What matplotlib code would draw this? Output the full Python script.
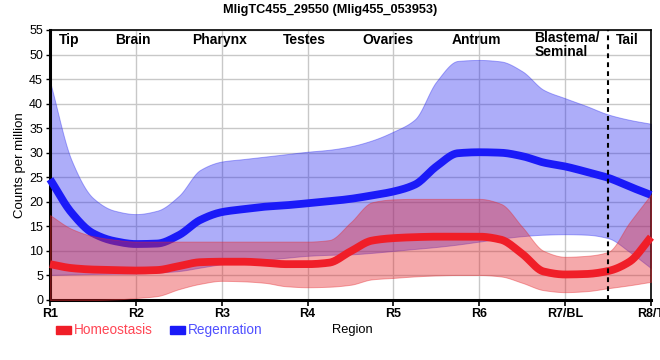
import numpy as np
import matplotlib
matplotlib.use("Agg")
import matplotlib.pyplot as plt

plt.rcParams['font.family'] = ['Liberation Sans', 'DejaVu Sans']

# positions along the body (R1 = 0 ... R8/T = 7), read every quarter step
pos = np.arange(0, 7.01, 0.25)

regen_mean = [24.6, 17.8, 13.6, 12.0, 11.4, 11.5, 13.2, 16.3, 17.9, 18.5, 19.0, 19.3,
              19.7, 20.1, 20.6, 21.3, 22.1, 23.5, 27.2, 29.9, 30.1, 30.0, 29.3, 28.0,
              27.2, 26.1, 24.9, 23.1, 21.4]
regen_hi = [44.5, 28.5, 20.8, 18.2, 17.5, 18.2, 21.2, 26.5, 28.2, 28.7, 29.2, 29.7,
            30.2, 30.6, 31.3, 32.5, 34.3, 36.8, 44.5, 48.7, 48.9, 48.6, 46.6, 42.8,
            41.1, 39.5, 37.8, 36.7, 35.9]
regen_lo = [5.1, 5.2, 5.3, 5.35, 5.4, 5.6, 5.9, 6.6, 7.3, 7.8, 8.2, 8.6,
            9.0, 9.2, 9.3, 9.6, 10.0, 10.4, 10.8, 11.3, 11.9, 12.5, 13.0, 13.3,
            13.4, 13.3, 12.6, 9.8, 6.5]

homeo_mean = [7.3, 6.5, 6.2, 6.1, 6.0, 6.1, 6.9, 7.7, 7.8, 7.8, 7.6, 7.3,
              7.3, 7.6, 9.9, 12.1, 12.6, 12.8, 12.9, 12.9, 12.9, 12.3, 9.4, 5.8,
              5.2, 5.3, 5.9, 7.8, 12.8]
homeo_hi = [17.3, 14.5, 13.0, 12.3, 11.9, 11.9, 11.9, 11.9, 11.9, 11.9, 11.9, 11.9,
            11.9, 12.2, 15.8, 19.9, 20.5, 20.6, 20.6, 20.6, 20.6, 19.6, 14.9, 10.0,
            8.8, 9.0, 9.8, 15.8, 21.5]
homeo_lo = [0.0, 0.0, 0.0, 0.1, 0.4, 0.8, 2.2, 3.3, 3.9, 3.8, 3.5, 2.8,
            2.6, 2.7, 3.1, 4.2, 4.5, 4.8, 5.0, 5.1, 5.1, 4.8, 3.5, 2.0,
            1.6, 1.8, 2.4, 3.0, 3.7]

tick_labels = ['R1', 'R2', 'R3', 'R4', 'R5', 'R6', 'R7/BL', 'R8/T']
regions = ['Tip', 'Brain', 'Pharynx', 'Testes', 'Ovaries', 'Antrum', 'Blastema/\nSeminal', 'Tail']
region_x = [0.22, 0.97, 1.98, 2.96, 3.94, 4.97, 5.64, 6.72]


def smooth(x, y, xs):
    # monotone cubic (pchip) through the read points, only for drawing
    x = np.asarray(x, float)
    y = np.asarray(y, float)
    h = np.diff(x)
    d = np.diff(y) / h
    m = np.zeros_like(y)
    m[0], m[-1] = d[0], d[-1]
    for k in range(1, len(y) - 1):
        if d[k - 1] * d[k] > 0:
            w1 = 2 * h[k] + h[k - 1]
            w2 = h[k] + 2 * h[k - 1]
            m[k] = (w1 + w2) / (w1 / d[k - 1] + w2 / d[k])
    i = np.clip(np.searchsorted(x, xs) - 1, 0, len(x) - 2)
    t = (xs - x[i]) / h[i]
    h00 = 2 * t**3 - 3 * t**2 + 1
    h10 = t**3 - 2 * t**2 + t
    h01 = -2 * t**3 + 3 * t**2
    h11 = t**3 - t**2
    return h00 * y[i] + h10 * h[i] * m[i] + h01 * y[i + 1] + h11 * h[i] * m[i + 1]


xs = np.linspace(0, 7, 600)
blue = '#1a1af8'
red = '#f01e28'

fig = plt.figure(figsize=(6.6, 3.6), dpi=100)
ax = fig.add_axes([50 / 660, 60 / 360, 601 / 660, 270 / 360])

ax.fill_between(xs, smooth(pos, regen_lo, xs), smooth(pos, regen_hi, xs),
                color='#2828f0', alpha=0.38, lw=0.7, zorder=2)
ax.plot(xs, smooth(pos, regen_mean, xs), color=blue, lw=5.6,
        solid_capstyle='butt', zorder=3, clip_on=False)
ax.fill_between(xs, smooth(pos, homeo_lo, xs), smooth(pos, homeo_hi, xs),
                color='#e6282d', alpha=0.4, lw=0.7, zorder=4)
ax.plot(xs, smooth(pos, homeo_mean, xs), color=red, lw=5.6,
        solid_capstyle='butt', zorder=5, clip_on=False)

ax.axvline(6.5, color='k', lw=1.5, ls=(0, (2.3, 2.0)), zorder=6)

ax.set_xlim(0, 7)
ax.set_ylim(0, 55)
ax.set_xticks(range(8))
ax.set_xticklabels(tick_labels, fontweight='bold', fontsize=9)
ax.set_yticks(range(0, 56, 5))
ax.tick_params(axis='y', labelsize=9, length=3, width=1, pad=2)
ax.tick_params(axis='x', length=4, width=1.2, pad=2)
ax.grid(True, color='#c8c8c8', lw=1)
ax.set_axisbelow(True)

for side in ['left', 'bottom']:
    ax.spines[side].set_linewidth(2.2)
for side in ['top', 'right']:
    ax.spines[side].set_linewidth(1.2)

for name, rx in zip(regions, region_x):
    if '\n' in name:
        ax.text(rx, 54.7, name, ha='left', va='top', fontsize=10,
                fontweight='bold', linespacing=0.95, zorder=7)
    else:
        ax.text(rx, 53.0, name, ha='center', va='center', fontsize=10,
                fontweight='bold', zorder=7)

fig.text(0.5, 1 - 10 / 360, 'MligTC455_29550 (Mlig455_053953)', ha='center',
         va='center', fontsize=9.2, fontweight='bold')
fig.text(20 / 660, 1 - 165 / 360, 'Counts per million', rotation=90,
         ha='center', va='center', fontsize=9.5)
fig.text(352 / 660, 1 - 330 / 360, 'Region', ha='center', va='center', fontsize=9.3)

# legend drawn as coloured bars with coloured labels
legend_items = [('Homeostasis', red, '#ff4655', 56), ('Regenration', blue, '#5050ff', 170)]
for label, c, tc, px in legend_items:
    fig.patches.append(plt.Rectangle((px / 660, 1 - 334 / 360), 15 / 660, 8 / 360,
                                     transform=fig.transFigure, color=c))
    fig.text((px + 18) / 660, 1 - 330 / 360, label, color=tc, ha='left',
             va='center', fontsize=9.8)

fig.savefig('out.png', dpi=100)
